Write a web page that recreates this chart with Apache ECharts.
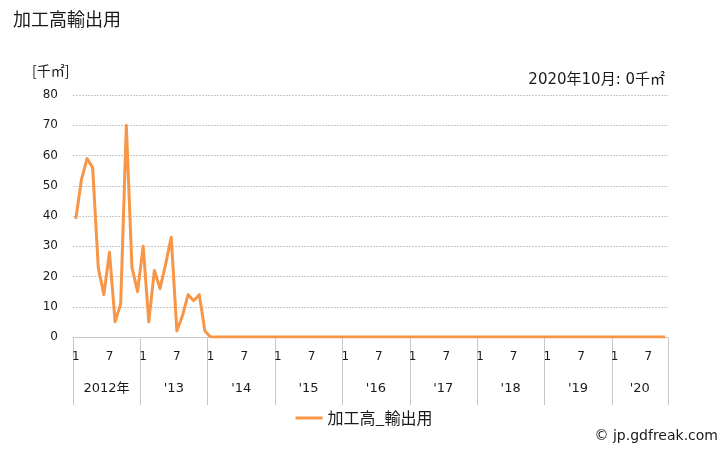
<!DOCTYPE html>
<html><head><meta charset="utf-8">
<script src="https://cdn.jsdelivr.net/npm/echarts@6/dist/echarts.min.js"></script>
<style>html,body{margin:0;padding:0;background:#fff}#c{width:728px;height:450px}</style>
</head><body><div id="c"></div>
<script>
const title = '加工高輸出用';
const seriesName = '加工高_輸出用';
const unitLabel = '[千㎡]';
const latestNote = '2020年10月: 0千㎡';
const startYear = 2012;
const monthCount = 106;
const yearLabels = ['2012年', "'13", "'14", "'15", "'16", "'17", "'18", "'19", "'20"];
const yTicks = [0, 10, 20, 30, 40, 50, 60, 70, 80];
const values2012 = [39, 52, 59, 56, 23, 14, 28, 5, 11, 70, 23, 15];
const values2013 = [30, 5, 22, 16, 24, 33, 2, 7, 14, 12, 14, 2];
const values2014 = [0, 0, 0, 0, 0, 0, 0, 0, 0, 0, 0, 0];
const values2015 = [0, 0, 0, 0, 0, 0, 0, 0, 0, 0, 0, 0];
const values2016 = [0, 0, 0, 0, 0, 0, 0, 0, 0, 0, 0, 0];
const values2017 = [0, 0, 0, 0, 0, 0, 0, 0, 0, 0, 0, 0];
const values2018 = [0, 0, 0, 0, 0, 0, 0, 0, 0, 0, 0, 0];
const values2019 = [0, 0, 0, 0, 0, 0, 0, 0, 0, 0, 0, 0];
const values2020 = [0, 0, 0, 0, 0, 0, 0, 0, 0, 0];

const values = [].concat(values2012, values2013, values2014, values2015, values2016, values2017, values2018, values2019, values2020);
const categories = [];
for (let i = 0; i < monthCount; i++) {
  const y = startYear + Math.floor(i / 12);
  const m = (i % 12) + 1;
  categories.push(y + '-' + m);
}
const monthOf = i => (i % 12) + 1;
const font = '"DejaVu Sans", "Noto Sans CJK JP", sans-serif';
const cjk = '"Noto Sans CJK JP", sans-serif';
const txt = '#1a1a1a';

const chart = echarts.init(document.getElementById('c'), null, {renderer: 'canvas'});
chart.setOption({
  animation: false,
  textStyle: {fontFamily: font},
  title: [
    {text: title, left: 8, top: 5, textStyle: {fontSize: 18, fontWeight: 'normal', color: txt, fontFamily: cjk}},
    {text: unitLabel, left: 27, top: 59, textStyle: {fontSize: 14, fontWeight: 'normal', color: txt, fontFamily: cjk}},
    {text: latestNote, right: 58, top: 68, textStyle: {fontSize: 15, fontWeight: 'normal', color: txt, fontFamily: font}}
  ],
  grid: {left: 73, right: 60, top: 95, bottom: 113, containLabel: false},
  legend: {
    bottom: 19, left: 'center',
    itemWidth: 27, itemHeight: 3, itemGap: 4,
    icon: 'rect',
    textStyle: {fontSize: 16, color: txt, fontFamily: cjk},
    data: [{name: seriesName}]
  },
  xAxis: [
    {
      type: 'category', data: categories, boundaryGap: true, position: 'bottom',
      axisLine: {show: true, lineStyle: {color: '#c8c8c8', width: 1}},
      axisTick: {show: true, length: 68, lineStyle: {color: '#c8c8c8'},
        interval: (i) => monthOf(i) === 1},
      axisLabel: {show: true, margin: 14, fontSize: 12, color: txt, fontFamily: font,
        interval: (i) => monthOf(i) === 1 || monthOf(i) === 7,
        formatter: (v, i) => String(monthOf(i))},
      splitLine: {show: false}
    },
    {
      type: 'category', data: categories, boundaryGap: true, position: 'bottom', offset: 32,
      axisLine: {show: false}, axisTick: {show: false}, splitLine: {show: false},
      axisLabel: {show: true, margin: 13, fontSize: 13, color: txt, fontFamily: font,
        padding: [0, 6, 0, 0],
        interval: (i) => (i < 96 ? monthOf(i) === 7 : monthOf(i) === 6),
        formatter: (v, i) => yearLabels[Math.floor(i / 12)]}
    }
  ],
  yAxis: {
    type: 'value', min: yTicks[0], max: yTicks[yTicks.length - 1], interval: yTicks[1] - yTicks[0],
    axisLine: {show: false}, axisTick: {show: false},
    axisLabel: {fontSize: 12, color: txt, margin: 15, fontFamily: font},
    splitLine: {show: true, lineStyle: {color: '#c8c8c8', type: [2, 1], width: 1}}
  },
  series: [{
    name: seriesName, type: 'line', data: values, xAxisIndex: 0,
    showSymbol: false, symbol: 'none',
    lineStyle: {color: '#f79646', width: 3, join: 'round'},
    itemStyle: {color: '#f79646'}
  }],
  graphic: [{
    type: 'text', right: 10, bottom: 7,
    style: {text: '© jp.gdfreak.com', fontSize: 14, fill: txt, fontFamily: font}
  }]
});
</script></body></html>
